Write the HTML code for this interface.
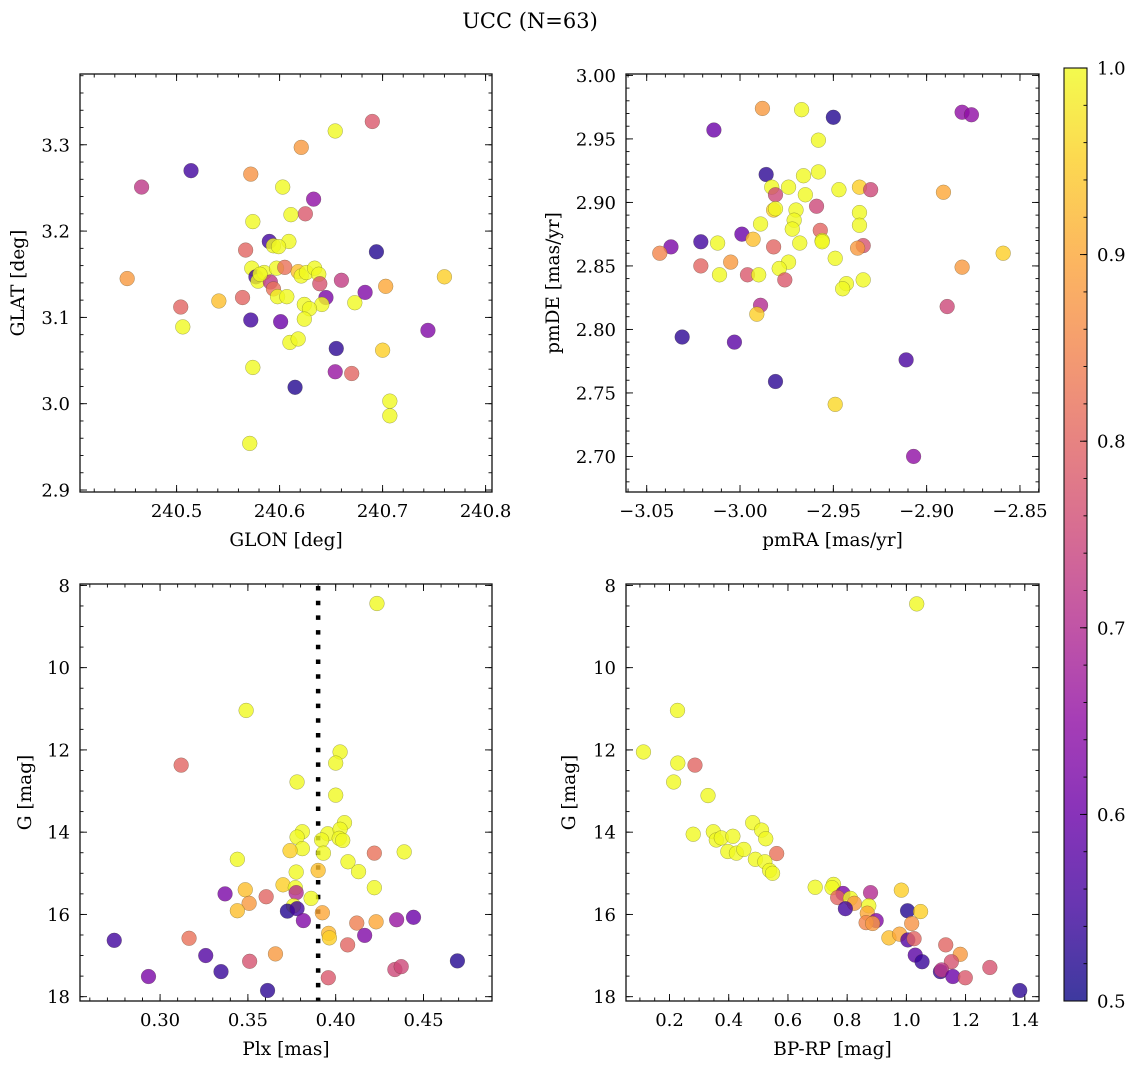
<!DOCTYPE html>
<html><head><meta charset="utf-8"><title>UCC (N=63)</title>
<style>
html,body{margin:0;padding:0;background:#fff;}
svg{display:block;font-family:"DejaVu Serif","Liberation Serif",serif;}
</style></head>
<body>
<svg id="fig" width="1136" height="1068" viewBox="0 0 1136 1068" xmlns="http://www.w3.org/2000/svg">
<rect width="1136" height="1068" fill="#fff"/>
<text x="530" y="28" font-size="21" text-anchor="middle">UCC (N=63)</text>
</svg>
<script>
// ---------- Panel 1: GLON vs GLAT ----------
const p1Glon=[240.690,240.654,240.621,240.514,240.466,240.572,240.603,240.633,240.611,240.625,240.574,240.590,240.609,240.567,240.594,240.599,240.694,240.452,240.573,240.577,240.579,240.585,240.597,240.605,240.618,240.621,240.626,240.634,240.638,240.639,240.660,240.591,240.594,240.598,240.607,240.564,240.541,240.645,240.641,240.673,240.703,240.683,240.504,240.624,240.629,240.624,240.506,240.572,240.601,240.744,240.610,240.618,240.655,240.700,240.574,240.654,240.670,240.615,240.707,240.707,240.571,240.760,240.581];
const p1Glat=[3.327,3.316,3.297,3.270,3.251,3.266,3.251,3.237,3.219,3.220,3.211,3.188,3.188,3.178,3.183,3.182,3.176,3.145,3.157,3.147,3.142,3.152,3.157,3.158,3.153,3.148,3.152,3.157,3.150,3.139,3.143,3.141,3.133,3.124,3.124,3.123,3.119,3.123,3.115,3.117,3.136,3.129,3.112,3.115,3.110,3.098,3.089,3.097,3.095,3.085,3.071,3.075,3.064,3.062,3.042,3.037,3.035,3.019,3.003,2.986,2.954,3.147,3.150];
const p1Prob=[0.78,1.0,0.88,0.55,0.72,0.87,1.0,0.65,1.0,0.78,1.0,0.55,1.0,0.8,1.0,1.0,0.52,0.88,1.0,0.55,1.0,1.0,1.0,0.82,0.93,1.0,1.0,1.0,1.0,0.77,0.73,0.72,0.82,1.0,1.0,0.8,0.93,0.62,1.0,1.0,0.9,0.63,0.8,1.0,1.0,1.0,1.0,0.55,0.6,0.63,1.0,1.0,0.53,0.95,1.0,0.66,0.8,0.52,1.0,1.0,1.0,0.95,1.0];
const p1XTicks=[240.5,240.6,240.7,240.8];
const p1YTicks=[2.9,3.0,3.1,3.2,3.3];
const p1XTickLabels=["240.5","240.6","240.7","240.8"];
const p1YTickLabels=["2.9","3.0","3.1","3.2","3.3"];

// ---------- Panel 2: pmRA vs pmDE ----------
const p2PmRA=[-2.988,-2.967,-2.950,-2.881,-2.876,-3.014,-2.958,-2.986,-2.958,-2.966,-2.983,-2.974,-2.936,-2.930,-2.947,-2.981,-2.965,-2.891,-2.959,-2.982,-2.981,-2.970,-2.936,-2.989,-2.971,-2.972,-2.936,-2.957,-2.999,-2.993,-3.021,-3.012,-2.968,-2.956,-2.956,-3.037,-2.982,-2.934,-2.937,-3.043,-2.859,-3.005,-2.974,-2.949,-3.021,-2.881,-2.979,-3.011,-2.996,-2.990,-2.976,-2.934,-2.943,-2.945,-2.889,-2.989,-2.991,-3.031,-3.003,-2.911,-2.981,-2.949,-2.907];
const p2PmDE=[2.974,2.973,2.967,2.971,2.969,2.957,2.949,2.922,2.924,2.921,2.912,2.912,2.912,2.910,2.910,2.906,2.906,2.908,2.897,2.894,2.895,2.894,2.892,2.883,2.886,2.879,2.882,2.878,2.875,2.871,2.869,2.868,2.868,2.870,2.869,2.865,2.865,2.866,2.864,2.860,2.860,2.853,2.853,2.856,2.850,2.849,2.848,2.843,2.843,2.843,2.839,2.839,2.836,2.832,2.818,2.819,2.812,2.794,2.790,2.776,2.759,2.741,2.700];
const p2Prob=[0.88,1.0,0.52,0.65,0.65,0.6,1.0,0.53,1.0,1.0,1.0,1.0,0.95,0.75,1.0,0.75,1.0,0.9,0.75,0.95,1.0,1.0,1.0,1.0,1.0,1.0,1.0,0.8,0.6,0.93,0.55,1.0,1.0,1.0,1.0,0.62,0.8,0.77,0.88,0.85,0.95,0.88,1.0,1.0,0.8,0.88,1.0,1.0,0.78,1.0,0.78,1.0,1.0,1.0,0.75,0.7,0.95,0.53,0.58,0.56,0.53,0.96,0.65];
const p2XTicks=[-3.05,-3.00,-2.95,-2.90,-2.85];
const p2YTicks=[2.70,2.75,2.80,2.85,2.90,2.95,3.00];
const p2XTickLabels=["\u22123.05","\u22123.00","\u22122.95","\u22122.90","\u22122.85"];
const p2YTickLabels=["2.70","2.75","2.80","2.85","2.90","2.95","3.00"];

// ---------- Panel 3: Plx vs G ----------
const p3Plx=[0.4235,0.349,0.312,0.4025,0.400,0.378,0.400,0.405,0.381,0.378,0.381,0.374,0.3955,0.392,0.4025,0.402,0.404,0.393,0.344,0.422,0.439,0.407,0.390,0.3775,0.413,0.370,0.377,0.422,0.3485,0.337,0.3775,0.3604,0.386,0.3507,0.344,0.376,0.3725,0.378,0.3924,0.3816,0.412,0.423,0.4347,0.4443,0.2739,0.3165,0.396,0.3964,0.4165,0.4068,0.326,0.3657,0.351,0.4693,0.3347,0.4337,0.4373,0.2934,0.3958,0.3612];
const p3G=[8.44,11.04,12.37,12.05,12.32,12.78,13.10,13.77,13.99,14.12,14.40,14.45,14.04,14.19,13.93,14.15,14.20,14.51,14.66,14.51,14.48,14.72,14.93,14.97,14.96,15.28,15.35,15.35,15.40,15.50,15.47,15.57,15.61,15.73,15.91,15.79,15.92,15.86,15.96,16.15,16.21,16.18,16.13,16.07,16.63,16.58,16.46,16.57,16.51,16.74,17.00,16.96,17.14,17.13,17.39,17.34,17.27,17.51,17.54,17.85];
const p3Prob=[1.0,1.0,0.8,1.0,1.0,1.0,1.0,1.0,1.0,1.0,1.0,0.95,1.0,1.0,1.0,1.0,1.0,1.0,1.0,0.82,1.0,1.0,0.93,1.0,1.0,0.95,1.0,1.0,0.93,0.62,0.7,0.8,1.0,0.88,0.93,1.0,0.52,0.55,0.9,0.63,0.84,0.9,0.66,0.6,0.55,0.82,0.92,0.95,0.63,0.8,0.57,0.88,0.77,0.52,0.54,0.75,0.75,0.62,0.78,0.53];
const p3PlxLine=[0.390];
const p3XTicks=[0.30,0.35,0.40,0.45];
const p3YTicks=[8,10,12,14,16,18];
const p3XTickLabels=["0.30","0.35","0.40","0.45"];
const p3YTickLabels=["8","10","12","14","16","18"];

// ---------- Panel 4: BP-RP vs G ----------
const p4BpRp=[1.035,0.227,0.112,0.228,0.286,0.214,0.330,0.481,0.511,0.525,0.280,0.348,0.358,0.375,0.414,0.397,0.426,0.451,0.562,0.490,0.522,0.538,0.548,0.692,0.754,0.749,0.983,0.786,0.879,0.768,0.811,0.824,0.794,0.873,0.868,1.004,1.048,0.898,0.864,0.886,1.018,0.941,0.977,1.005,1.026,1.133,1.182,1.030,1.053,1.152,1.282,1.115,1.119,1.157,1.199,1.383];
const p4G=[8.45,11.04,12.05,12.32,12.37,12.78,13.11,13.77,13.95,14.16,14.05,13.99,14.19,14.14,14.10,14.47,14.51,14.42,14.52,14.66,14.72,14.93,15.00,15.34,15.27,15.35,15.41,15.49,15.47,15.59,15.61,15.73,15.86,15.79,15.97,15.91,15.93,16.15,16.20,16.22,16.22,16.57,16.48,16.62,16.59,16.74,16.97,16.99,17.15,17.15,17.29,17.39,17.35,17.51,17.54,17.85];
const p4Prob=[1.0,1.0,1.0,1.0,0.8,1.0,1.0,1.0,1.0,1.0,1.0,1.0,1.0,1.0,1.0,1.0,1.0,1.0,0.82,1.0,1.0,1.0,1.0,1.0,1.0,1.0,0.95,0.62,0.7,0.8,1.0,0.88,0.55,1.0,0.9,0.52,0.95,0.63,0.85,0.88,0.87,0.93,0.9,0.57,0.8,0.8,0.88,0.58,0.54,0.77,0.77,0.54,0.72,0.6,0.78,0.53];
const p4XTicks=[0.2,0.4,0.6,0.8,1.0,1.2,1.4];
const p4YTicks=[8,10,12,14,16,18];
const p4XTickLabels=["0.2","0.4","0.6","0.8","1.0","1.2","1.4"];
const p4YTickLabels=["8","10","12","14","16","18"];

// ---------- Colorbar ----------
const cbTicks=[0.5,0.6,0.7,0.8,0.9,1.0];
const cbTickLabels=["0.5","0.6","0.7","0.8","0.9","1.0"];

const NS="http://www.w3.org/2000/svg";
const svg=document.getElementById('fig');
function mk(tag,attrs,parent){const e=document.createElementNS(NS,tag);for(const k in attrs)e.setAttribute(k,attrs[k]);(parent||svg).appendChild(e);return e;}

const plasma=[[13,8,135],[65,4,157],[106,0,168],[143,13,164],[177,42,144],[204,71,120],[225,100,98],[242,132,75],[252,166,54],[252,206,37],[240,249,33]];
function cmap(v){let t=(v-0.5)/0.5;t=Math.max(0,Math.min(1,t));const f=t*10;const i=Math.min(9,Math.floor(f));const u=f-i;const a=plasma[i],b=plasma[i+1];
  return 'rgb('+Math.round(a[0]+(b[0]-a[0])*u)+','+Math.round(a[1]+(b[1]-a[1])*u)+','+Math.round(a[2]+(b[2]-a[2])*u)+')';}

function lin(d0,d1,r0,r1){return v=>r0+(v-d0)/(d1-d0)*(r1-r0);}

function makePanel(cfg){
  const g=mk('g',{});
  
  
  const {L,R,T,B}=cfg;
  const sx=lin(cfg.xd[0],cfg.xd[1],L,R);
  const sy=lin(cfg.yd[0],cfg.yd[1],B,T);
  // minor ticks
  const minors=(d0,d1,step)=>{const out=[];const s=Math.ceil(d0/step-1e-9);for(let k=s;k*step<=d1+1e-9;k++)out.push(k*step);return out;};
  const tg=mk('g',{stroke:'#000','stroke-width':0.9},g);
  
  
  minors(cfg.xd[0],cfg.xd[1],cfg.xMinor).forEach(v=>{const x=sx(v);if(x<L||x>R)return;
    mk('line',{x1:x,x2:x,y1:B,y2:B-3.5},tg);mk('line',{x1:x,x2:x,y1:T,y2:T+3.5},tg);});
  minors(Math.min(...cfg.yd),Math.max(...cfg.yd),cfg.yMinor).forEach(v=>{const y=sy(v);if(y<T||y>B)return;
    mk('line',{x1:L,x2:L+3.5,y1:y,y2:y},tg);mk('line',{x1:R,x2:R-3.5,y1:y,y2:y},tg);});
  cfg.xt.forEach((v,i)=>{const x=sx(v);
    mk('line',{x1:x,x2:x,y1:B,y2:B-7},tg);mk('line',{x1:x,x2:x,y1:T,y2:T+7},tg);
    const t=mk('text',{x:x,y:B+25,'font-size':18,'text-anchor':'middle'},g);t.textContent=cfg.xtl[i];
    
    });
  cfg.yt.forEach((v,i)=>{const y=sy(v);
    mk('line',{x1:L,x2:L+7,y1:y,y2:y},tg);mk('line',{x1:R,x2:R-7,y1:y,y2:y},tg);
    const t=mk('text',{x:L-10,y:y+6.5,'font-size':18,'text-anchor':'end'},g);t.textContent=cfg.ytl[i];
    
    });
  // extra (dotted line)
  if(cfg.vline){cfg.vline.forEach(v=>{const l=mk('line',{x1:sx(v),x2:sx(v),y1:T+2,y2:B,stroke:'#000','stroke-width':4.5,'stroke-dasharray':'4.5 10.2'},g);
    
    });}
  // points
  const pg=mk('g',{},g);
  
  
  for(let i=0;i<cfg.xs.length;i++){
    const c=mk('circle',{cx:sx(cfg.xs[i]),cy:sy(cfg.ys[i]),r:7.4,fill:cmap(cfg.ps[i]),'fill-opacity':0.8,stroke:'rgba(60,60,30,0.45)','stroke-width':0.5},pg);
    
    
  }
  const fr=mk('rect',{x:L,y:T,width:R-L,height:B-T,fill:'none',stroke:'#111','stroke-width':1.3},g);
  
  
  const xl=mk('text',{x:(L+R)/2,y:B+54,'font-size':18.5,'text-anchor':'middle'},g);xl.textContent=cfg.xlab;
  
  
  const yl=mk('text',{x:0,y:0,'font-size':18.5,'text-anchor':'middle',transform:'translate('+(cfg.ylx)+','+((T+B)/2)+') rotate(-90)'},g);yl.textContent=cfg.ylab;
  
  
}

makePanel({name:'glon-glat-panel',L:80,R:492,T:74,B:492,xd:[240.4062,240.8062],yd:[2.8977,3.382],xMinor:0.02,yMinor:0.02,
  xt:p1XTicks,xtl:p1XTickLabels,yt:p1YTicks,ytl:p1YTickLabels,xs:p1Glon,ys:p1Glat,ps:p1Prob,xlab:'GLON [deg]',ylab:'GLAT [deg]',ylx:24});
makePanel({name:'pm-panel',L:626,R:1039,T:74,B:492,xd:[-3.0611,-2.8398],yd:[2.672,3.0011],xMinor:0.01,yMinor:0.01,
  xt:p2XTicks,xtl:p2XTickLabels,yt:p2YTicks,ytl:p2YTickLabels,xs:p2PmRA,ys:p2PmDE,ps:p2Prob,xlab:'pmRA [mas/yr]',ylab:'pmDE [mas/yr]',ylx:559});
makePanel({name:'plx-g-panel',L:80,R:492,T:584,B:1001,xd:[0.2544,0.489],yd:[18.105,7.966],xMinor:0.01,yMinor:0.5,
  xt:p3XTicks,xtl:p3XTickLabels,yt:p3YTicks,ytl:p3YTickLabels,xs:p3Plx,ys:p3G,ps:p3Prob,xlab:'Plx [mas]',ylab:'G [mag]',ylx:31,vline:p3PlxLine});
makePanel({name:'cmd-panel',L:626,R:1039,T:584,B:1001,xd:[0.053,1.448],yd:[18.105,7.966],xMinor:0.05,yMinor:0.5,
  xt:p4XTicks,xtl:p4XTickLabels,yt:p4YTicks,ytl:p4YTickLabels,xs:p4BpRp,ys:p4G,ps:p4Prob,xlab:'BP-RP [mag]',ylab:'G [mag]',ylx:575});

// colorbar
(function(){
  const L=1064,R=1087,T=68,B=1001;
  const g=mk('g',{});
  
  
  const defs=mk('defs',{},g);
  const lg=mk('linearGradient',{id:'cbg',x1:0,y1:1,x2:0,y2:0},defs);
  for(let k=0;k<=20;k++){const v=0.5+k*0.025;mk('stop',{offset:(k/20),'stop-color':cmap(v),'stop-opacity':0.8},lg);}
  const r=mk('rect',{x:L,y:T,width:R-L,height:B-T,fill:'url(#cbg)',stroke:'#111','stroke-width':1.1},g);
  
  
  const sy=lin(0.5,1.0,B,T);
  for(let k=0;k<=25;k++){const v=0.5+k*0.02;const y=sy(v);mk('line',{x1:R,x2:R-3.5,y1:y,y2:y,stroke:'#000','stroke-width':0.9},g);}
  cbTicks.forEach((v,i)=>{const y=sy(v);mk('line',{x1:R,x2:R-7,y1:y,y2:y,stroke:'#000','stroke-width':0.9},g);
    const t=mk('text',{x:R+10,y:y+6.5,'font-size':18},g);t.textContent=cbTickLabels[i];
    
    });
})();
</script>
</body></html>
